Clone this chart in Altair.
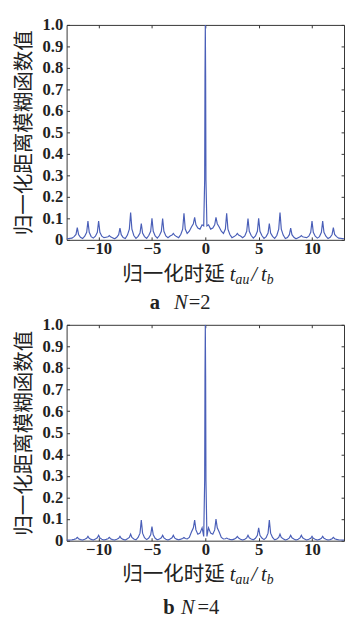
import altair as alt
import pandas as pd

# Shared delay axis samples (normalized delay t_au / t_b)
X = [
    -13.0, -12.5,
    -12.3, -12.12, -12.0, -11.88, -11.7, -11.5,
    -11.3, -11.12, -11.0, -10.88, -10.7, -10.5,
    -10.3, -10.12, -10.0, -9.88, -9.7, -9.5,
    -9.3, -9.12, -9.0, -8.88, -8.7, -8.5,
    -8.3, -8.12, -8.0, -7.88, -7.7, -7.5,
    -7.3, -7.12, -7.0, -6.88, -6.7, -6.5,
    -6.3, -6.12, -6.0, -5.88, -5.7, -5.5,
    -5.3, -5.12, -5.0, -4.88, -4.7, -4.5,
    -4.3, -4.12, -4.0, -3.88, -3.7, -3.5,
    -3.3, -3.12, -3.0, -2.88, -2.7, -2.5,
    -2.3, -2.12, -2.0, -1.88, -1.7, -1.5,
    -1.3, -1.12, -1.0, -0.88, -0.7, -0.5,
    -0.3, -0.15, -0.06, -0.03, 0.0, 0.03, 0.06, 0.15, 0.3, 0.5,
    0.7, 0.88, 1.0, 1.12, 1.3, 1.5,
    1.7, 1.88, 2.0, 2.12, 2.3, 2.5,
    2.7, 2.88, 3.0, 3.12, 3.3, 3.5,
    3.7, 3.88, 4.0, 4.12, 4.3, 4.5,
    4.7, 4.88, 5.0, 5.12, 5.3, 5.5,
    5.7, 5.88, 6.0, 6.12, 6.3, 6.5,
    6.7, 6.88, 7.0, 7.12, 7.3, 7.5,
    7.7, 7.88, 8.0, 8.12, 8.3, 8.5,
    8.7, 8.88, 9.0, 9.12, 9.3, 9.5,
    9.7, 9.88, 10.0, 10.12, 10.3, 10.5,
    10.7, 10.88, 11.0, 11.12, 11.3, 11.5,
    11.7, 11.88, 12.0, 12.12, 12.3, 12.5,
    13.0,
]

# Panel a (N=2) normalized range ambiguity function values
Y_N2 = [
    0.005, 0.008,
    0.015, 0.025, 0.057, 0.025, 0.012, 0.006,
    0.017, 0.035, 0.087, 0.035, 0.015, 0.008,
    0.017, 0.035, 0.087, 0.035, 0.017, 0.010,
    0.012, 0.014, 0.020, 0.014, 0.010, 0.005,
    0.012, 0.024, 0.054, 0.024, 0.011, 0.006,
    0.022, 0.050, 0.127, 0.050, 0.020, 0.007,
    0.016, 0.032, 0.076, 0.032, 0.015, 0.007,
    0.020, 0.040, 0.100, 0.040, 0.018, 0.008,
    0.020, 0.040, 0.099, 0.040, 0.018, 0.010,
    0.018, 0.022, 0.030, 0.022, 0.015, 0.010,
    0.025, 0.050, 0.124, 0.050, 0.030, 0.040,
    0.060, 0.075, 0.105, 0.070, 0.055, 0.050,
    0.070, 0.065, 0.280, 0.760, 1.000, 0.760, 0.280, 0.065, 0.070, 0.050,
    0.055, 0.070, 0.105, 0.075, 0.060, 0.040,
    0.030, 0.050, 0.124, 0.050, 0.025, 0.010,
    0.015, 0.022, 0.030, 0.022, 0.018, 0.010,
    0.018, 0.040, 0.099, 0.040, 0.020, 0.008,
    0.018, 0.040, 0.100, 0.040, 0.020, 0.007,
    0.015, 0.032, 0.076, 0.032, 0.016, 0.007,
    0.020, 0.050, 0.127, 0.050, 0.022, 0.006,
    0.011, 0.024, 0.054, 0.024, 0.012, 0.005,
    0.010, 0.014, 0.020, 0.014, 0.012, 0.010,
    0.017, 0.035, 0.087, 0.035, 0.017, 0.008,
    0.015, 0.035, 0.087, 0.035, 0.017, 0.006,
    0.012, 0.025, 0.057, 0.025, 0.015, 0.008,
    0.005,
]

# Panel b (N=4)
Y_N4 = [
    0.003, 0.004,
    0.006, 0.009, 0.015, 0.009, 0.005, 0.003,
    0.007, 0.011, 0.020, 0.011, 0.006, 0.003,
    0.008, 0.013, 0.025, 0.013, 0.007, 0.003,
    0.006, 0.009, 0.015, 0.009, 0.005, 0.003,
    0.007, 0.011, 0.020, 0.011, 0.006, 0.003,
    0.009, 0.015, 0.030, 0.015, 0.008, 0.004,
    0.015, 0.035, 0.095, 0.035, 0.014, 0.005,
    0.012, 0.027, 0.065, 0.027, 0.011, 0.004,
    0.008, 0.013, 0.025, 0.013, 0.007, 0.003,
    0.008, 0.013, 0.025, 0.013, 0.007, 0.004,
    0.007, 0.010, 0.015, 0.010, 0.008, 0.015,
    0.040, 0.060, 0.095, 0.050, 0.030, 0.035,
    0.060, 0.020, 0.280, 0.760, 1.000, 0.760, 0.280, 0.020, 0.060, 0.035,
    0.030, 0.050, 0.100, 0.060, 0.040, 0.015,
    0.008, 0.009, 0.012, 0.009, 0.006, 0.004,
    0.007, 0.012, 0.020, 0.012, 0.007, 0.003,
    0.007, 0.013, 0.025, 0.013, 0.008, 0.004,
    0.011, 0.025, 0.060, 0.025, 0.012, 0.005,
    0.014, 0.035, 0.095, 0.035, 0.015, 0.004,
    0.008, 0.015, 0.030, 0.015, 0.009, 0.003,
    0.007, 0.013, 0.025, 0.013, 0.008, 0.003,
    0.007, 0.013, 0.025, 0.013, 0.008, 0.003,
    0.007, 0.011, 0.020, 0.011, 0.007, 0.003,
    0.006, 0.011, 0.020, 0.011, 0.007, 0.003,
    0.005, 0.009, 0.015, 0.009, 0.006, 0.004,
    0.003,
]

X_TICKS = [-10, -5, 0, 5, 10]
Y_TICKS = [0.0, 0.1, 0.2, 0.3, 0.4, 0.5, 0.6, 0.7, 0.8, 0.9, 1.0]
Y_TITLE = "归一化距离模糊函数值"
X_TITLE_CN = "归一化时延"

LINE = "#4a5fb8"
INK = "#222222"
FRAME = "#333333"
SERIF = "Liberation Serif"
CJK = "Noto Sans CJK SC"
W = 284

DUMMY = pd.DataFrame({"d": [0]})

AX_COMMON = dict(
    domain=False, grid=False, tickColor=FRAME, tickWidth=1, tickSize=3, offset=-3,
    labelFont=SERIF, labelFontSize=17, labelFontWeight="bold", labelColor=INK,
)


def txt(s, px, py, size, style="normal", weight="normal", font=SERIF):
    return alt.Chart(DUMMY).mark_text(
        text=s, align="left", baseline="middle", font=font, fontSize=size,
        fontStyle=style, fontWeight=weight, color=INK
    ).encode(x=alt.value(px), y=alt.value(py))


def panel(yvals, h, letter, nval, lx, nx, ex, title_dy, cap_dy):
    df = pd.DataFrame({"x": X, "y": yvals})
    xs = alt.Scale(domain=[-13, 13], nice=False, zero=False)
    ys = alt.Scale(domain=[0, 1], nice=False)
    main = alt.Chart(df).mark_line(color=LINE, strokeWidth=1.2, clip=True).encode(
        x=alt.X("x:Q", scale=xs, axis=alt.Axis(
            orient="bottom", values=X_TICKS, title=None, labelPadding=1,
            labelFlush=False, **AX_COMMON)),
        y=alt.Y("y:Q", scale=ys, axis=alt.Axis(
            orient="left", values=Y_TICKS, title=Y_TITLE, labelPadding=4,
            minExtent=28, maxExtent=28,
            titleFont=CJK, titleFontSize=21, titleFontWeight="normal",
            titleColor=INK, titlePadding=7.5,
            labelExpr="datum.value == 0 ? '0' : format(datum.value, '.1f')",
            **AX_COMMON)),
    )
    mirror = alt.Chart(df).mark_line(opacity=0).encode(
        x=alt.X("x:Q", scale=xs, axis=alt.Axis(
            orient="top", values=X_TICKS, title=None, labels=False, **AX_COMMON)),
        y=alt.Y("y:Q", scale=ys, axis=alt.Axis(
            orient="right", values=Y_TICKS, title=None, labels=False, **AX_COMMON)),
    )
    ty = h + title_dy
    cy = h + cap_dy
    texts = [
        txt(X_TITLE_CN, 57, ty, 21, font=CJK),
        txt("t", 167, ty, 21, style="italic"),
        txt("au", 173, ty + 5, 14, style="italic"),
        txt("/", 189, ty, 21, style="italic"),
        txt("t", 199, ty, 21, style="italic"),
        txt("b", 205, ty + 5, 14, style="italic"),
        txt(letter, lx, cy, 21, weight="bold"),
        txt("N", nx, cy, 21, style="italic"),
        txt("=" + nval, ex, cy, 21),
    ]
    return alt.layer(main, mirror, *texts).resolve_axis(
        x="independent", y="independent"
    ).properties(width=W, height=h)


pa = panel(Y_N2, 220, "a", "2", 85, 110, 125, 36.5, 64.5)
pb = panel(Y_N4, 221, "b", "4", 99, 117, 134, 35.5, 69)

chart = alt.vconcat(pa, pb, spacing=2).properties(
    padding={"left": 6, "top": 0, "right": 0, "bottom": 0},
    background="white",
).configure_view(
    stroke=FRAME, strokeWidth=1
)

chart.save("out.html", embed_options={"renderer": "svg", "actions": False})
